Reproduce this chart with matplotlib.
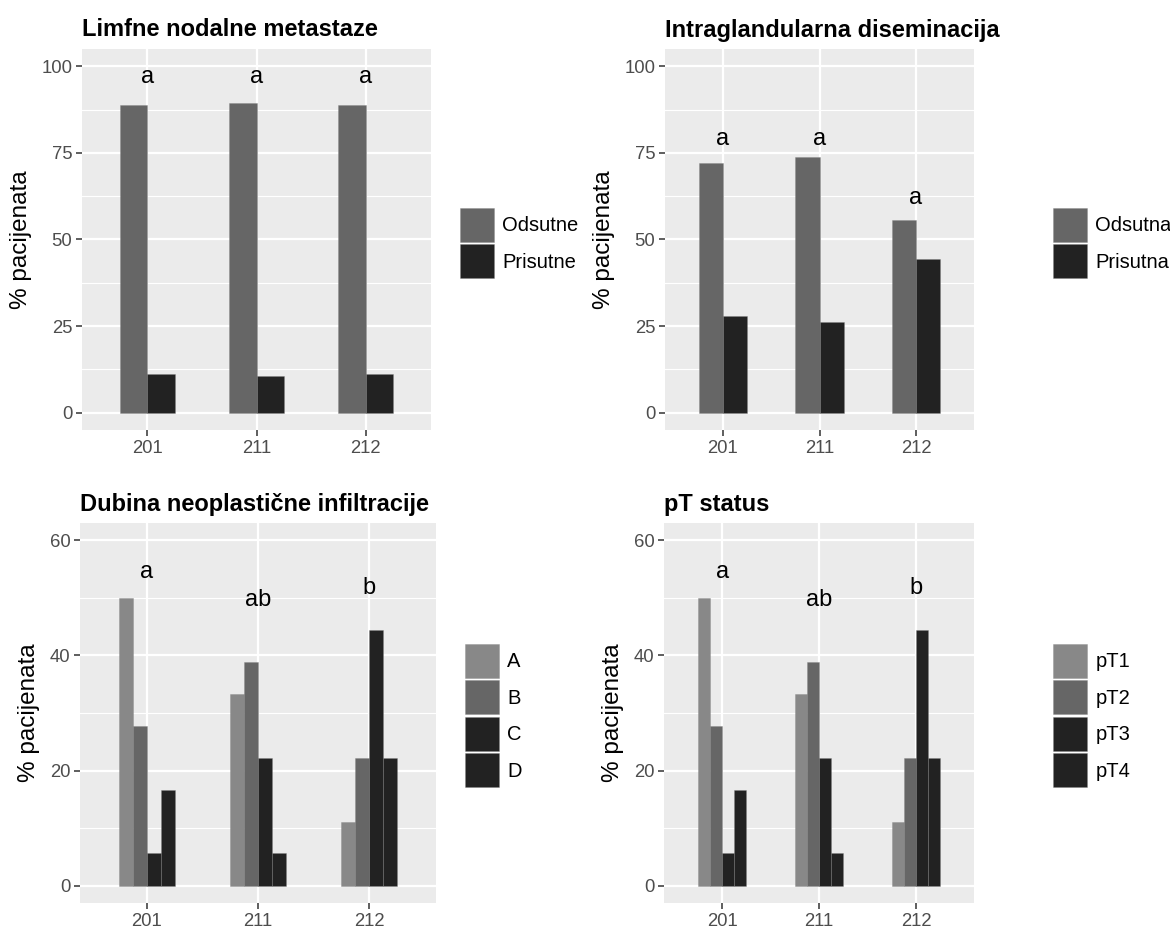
import matplotlib
matplotlib.use("Agg")
import matplotlib.pyplot as plt
from matplotlib.patches import Patch
import numpy as np

plt.rcParams['font.family'] = ['Liberation Sans', 'DejaVu Sans']

# data
groups = ["201", "211", "212"]

lnm_labels = ["Odsutne", "Prisutne"]
lnm_values = [[88.9, 89.5, 88.9],
              [11.1, 10.5, 11.1]]
lnm_letters = ["a", "a", "a"]
lnm_letter_y = [95.3, 95.3, 95.3]

igd_labels = ["Odsutna", "Prisutna"]
igd_values = [[72.2, 73.7, 55.6],
              [27.8, 26.3, 44.4]]
igd_letters = ["a", "a", "a"]
igd_letter_y = [77.4, 77.4, 60.3]

dni_labels = ["A", "B", "C", "D"]
dni_values = [[50.0, 33.3, 11.1],
              [27.8, 38.9, 22.2],
              [5.6, 22.2, 44.4],
              [16.7, 5.6, 22.2]]
dni_letters = ["a", "ab", "b"]
dni_letter_y = [53.5, 48.6, 50.75]

pt_labels = ["pT1", "pT2", "pT3", "pT4"]
pt_values = dni_values
pt_letters = dni_letters
pt_letter_y = dni_letter_y

two_colors = ["#666666", "#222222"]
four_colors = ["#888888", "#666666", "#222222", "#222222"]

W, H = 1170, 933
fig = plt.figure(figsize=(W / 100, H / 100), dpi=100)


def box(x0, x1, ytop, ybot):
    return [x0 / W, 1 - ybot / H, (x1 - x0) / W, (ybot - ytop) / H]


def panel(rect, title, labels, values, colors, letters, letter_y,
          ymax, major, minor, leg_xy):
    ax = fig.add_axes(rect)
    ax.set_facecolor("#EBEBEB")
    x = np.arange(len(groups))
    n = len(labels)
    bw = 0.5 / n
    for i in range(n):
        off = (i - (n - 1) / 2) * bw
        ax.bar(x + off, values[i], width=bw, color=colors[i],
               edgecolor=(0.5, 0.5, 0.5, 0.45), linewidth=0.5, zorder=3)
    for xi, t, yy in zip(x, letters, letter_y):
        ax.text(xi, yy, t, ha="center", va="baseline", fontsize=17, zorder=4)
    ax.set_xlim(-0.6, len(groups) - 0.4)
    ax.set_ylim(-0.05 * ymax, 1.05 * ymax)
    ax.set_xticks(x)
    ax.set_xticklabels(groups)
    ax.set_yticks(major)
    ax.set_yticks(minor, minor=True)
    ax.grid(which="major", color="white", linewidth=1.6, zorder=0)
    ax.grid(which="minor", axis="y", color="white", linewidth=0.8, zorder=0)
    ax.set_axisbelow(True)
    for s in ax.spines.values():
        s.set_visible(False)
    ax.tick_params(which="major", length=4, width=1.1, color="#333333",
                   labelsize=13.3, labelcolor="#4D4D4D", pad=3)
    ax.tick_params(which="minor", length=0)
    ax.set_ylabel("% pacijenata", fontsize=17.5, labelpad=7)
    ax.set_title(title, loc="left", fontsize=17, fontweight="bold", pad=9)
    handles = [Patch(facecolor=c, edgecolor=(0.5, 0.5, 0.5, 0.45),
                     linewidth=0.5) for c in colors]
    fig.legend(handles, labels, loc="upper left",
               bbox_to_anchor=(leg_xy[0] / W, 1 - leg_xy[1] / H),
               frameon=False, fontsize=14.5, borderpad=0, borderaxespad=0,
               handlelength=1.7, handleheight=2.22, handletextpad=0.4,
               labelspacing=0.12)
    return ax


panel(box(82, 431, 49, 430), "Limfne nodalne metastaze", lnm_labels,
      lnm_values, two_colors, lnm_letters, lnm_letter_y,
      100, [0, 25, 50, 75, 100], [12.5, 37.5, 62.5, 87.5], (460, 208))
panel(box(665, 974, 49, 430), "Intraglandularna diseminacija", igd_labels,
      igd_values, two_colors, igd_letters, igd_letter_y,
      100, [0, 25, 50, 75, 100], [12.5, 37.5, 62.5, 87.5], (1053, 208))
panel(box(80, 436, 523, 903), "Dubina neoplastične infiltracije", dni_labels,
      dni_values, four_colors, dni_letters, dni_letter_y,
      60, [0, 20, 40, 60], [10, 30, 50], (465, 644))
panel(box(664, 974, 523, 903), "pT status", pt_labels,
      pt_values, four_colors, pt_letters, pt_letter_y,
      60, [0, 20, 40, 60], [10, 30, 50], (1053, 644))

fig.savefig("out.png", dpi=100)
